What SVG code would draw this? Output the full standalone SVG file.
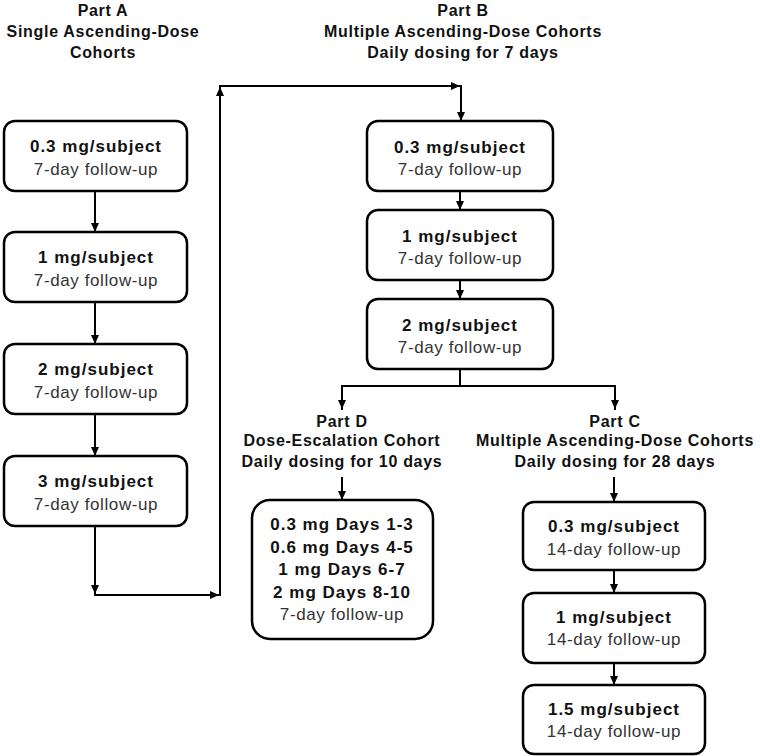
<svg xmlns="http://www.w3.org/2000/svg" width="760" height="756" viewBox="0 0 760 756">
<defs>
<marker id="ah" markerUnits="userSpaceOnUse" markerWidth="9" markerHeight="8" refX="9" refY="4" orient="auto">
<path d="M0,0 L9,4 L0,8 z" fill="#000"/>
</marker>
<style>
.box{fill:#fff;stroke:#000;stroke-width:2.5}
.hd{font-family:"Liberation Sans",Arial,sans-serif;font-weight:bold;font-size:16px;letter-spacing:0.7px;text-anchor:middle;fill:#111}
.b{font-family:"Liberation Sans",Arial,sans-serif;font-weight:bold;font-size:17px;letter-spacing:1px;text-anchor:middle;fill:#111}
.r{font-family:"Liberation Sans",Arial,sans-serif;font-size:17px;letter-spacing:0.6px;text-anchor:middle;fill:#333}
.c{fill:none;stroke:#000;stroke-width:2;stroke-linecap:square}
.a{marker-end:url(#ah)}
</style>
</defs>
<rect width="760" height="756" fill="#fff"/>

<g id="headers">
<text class="hd" x="103" y="16">Part A</text>
<text class="hd" x="103" y="37">Single Ascending-Dose</text>
<text class="hd" x="103" y="58">Cohorts</text>
<text class="hd" x="463" y="16">Part B</text>
<text class="hd" x="463" y="37">Multiple Ascending-Dose Cohorts</text>
<text class="hd" x="463" y="58">Daily dosing for 7 days</text>
<text class="hd" x="342" y="427">Part D</text>
<text class="hd" x="342" y="446">Dose-Escalation Cohort</text>
<text class="hd" x="342" y="467">Daily dosing for 10 days</text>
<text class="hd" x="615" y="427">Part C</text>
<text class="hd" x="615" y="446">Multiple Ascending-Dose Cohorts</text>
<text class="hd" x="615" y="467">Daily dosing for 28 days</text>
</g>

<g id="connectors">
<path class="c a" d="M95 191 V232"/>
<path class="c a" d="M95 302 V344"/>
<path class="c a" d="M95 414 V456"/>
<path class="c a" d="M95 526 V594"/>
<path class="c a" d="M95 595 H219"/>
<path class="c a" d="M220 595 V87"/>
<path class="c a" d="M220 86 H460"/>
<path class="c a" d="M461 86 V121"/>
<path class="c a" d="M460 191 V210"/>
<path class="c a" d="M460 280 V299"/>
<path class="c" d="M460 369 V386 M342 386 H615"/>
<path class="c a" d="M342 386 V409"/>
<path class="c a" d="M615 386 V409"/>
<path class="c a" d="M342 478 V500"/>
<path class="c a" d="M614 478 V502"/>
<path class="c a" d="M614 570 V593"/>
<path class="c a" d="M614 663 V685"/>
</g>

<g id="A1"><rect class="box" x="4" y="121" width="183" height="70" rx="11"/>
<text class="b" x="96" y="152">0.3 mg/subject</text><text class="r" x="96" y="175">7-day follow-up</text></g>
<g id="A2"><rect class="box" x="4" y="232" width="183" height="70" rx="11"/>
<text class="b" x="96" y="263">1 mg/subject</text><text class="r" x="96" y="286">7-day follow-up</text></g>
<g id="A3"><rect class="box" x="4" y="344" width="183" height="70" rx="11"/>
<text class="b" x="96" y="375">2 mg/subject</text><text class="r" x="96" y="398">7-day follow-up</text></g>
<g id="A4"><rect class="box" x="4" y="456" width="183" height="70" rx="11"/>
<text class="b" x="96" y="487">3 mg/subject</text><text class="r" x="96" y="510">7-day follow-up</text></g>

<g id="B1"><rect class="box" x="367" y="121" width="186" height="70" rx="11"/>
<text class="b" x="460" y="153">0.3 mg/subject</text><text class="r" x="460" y="175">7-day follow-up</text></g>
<g id="B2"><rect class="box" x="367" y="210" width="186" height="70" rx="11"/>
<text class="b" x="460" y="242">1 mg/subject</text><text class="r" x="460" y="264">7-day follow-up</text></g>
<g id="B3"><rect class="box" x="367" y="299" width="186" height="70" rx="11"/>
<text class="b" x="460" y="331">2 mg/subject</text><text class="r" x="460" y="353">7-day follow-up</text></g>

<g id="D1"><rect class="box" x="252" y="500" width="181" height="139" rx="18"/>
<text class="b" x="342" y="530">0.3 mg Days 1-3</text>
<text class="b" x="342" y="553">0.6 mg Days 4-5</text>
<text class="b" x="342" y="575">1 mg Days 6-7</text>
<text class="b" x="342" y="598">2 mg Days 8-10</text>
<text class="r" x="342" y="620">7-day follow-up</text></g>

<g id="C1"><rect class="box" x="523" y="502" width="182" height="68" rx="11"/>
<text class="b" x="614" y="532">0.3 mg/subject</text><text class="r" x="614" y="555">14-day follow-up</text></g>
<g id="C2"><rect class="box" x="523" y="593" width="182" height="70" rx="11"/>
<text class="b" x="614" y="623">1 mg/subject</text><text class="r" x="614" y="645">14-day follow-up</text></g>
<g id="C3"><rect class="box" x="523" y="685" width="182" height="69" rx="11"/>
<text class="b" x="614" y="715">1.5 mg/subject</text><text class="r" x="614" y="737">14-day follow-up</text></g>
</svg>
